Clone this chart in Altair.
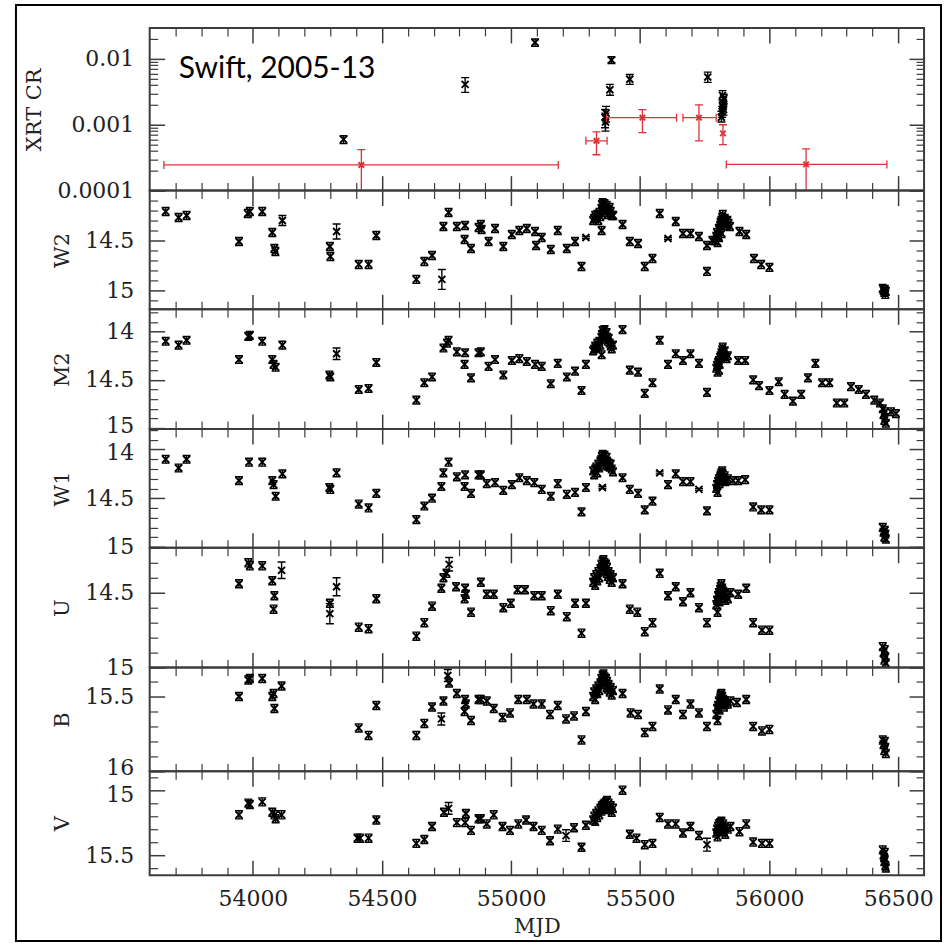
import altair as alt
import pandas as pd

# ------------------------------------------------------------------ data
X_DOMAIN = [53600, 56600]
X_MAJOR = [54000, 54500, 55000, 55500, 56000, 56500]
X_MINOR = [v for v in range(53700, 56600, 100) if v % 500 != 0]

NOTE_TEXT = "Swift, 2005-13"
NOTE_MJD = 53713
NOTE_CR = 0.0052

# XRT count rate, individual observations (black)
XRT_MJD = [54351, 54822, 55093, 55389, 55383, 55460, 55364, 55366, 55368, 55762,
           55815, 55818, 55820, 55822, 55824, 55819, 55821, 55823]
XRT_CR = [0.00060, 0.0041, 0.0177, 0.0096, 0.0034, 0.0049, 0.0013, 0.0011, 0.0015, 0.0053,
          0.0013, 0.0016, 0.0019, 0.0022, 0.0025, 0.0028, 0.0020, 0.0017]
XRT_LO = [0.00052, 0.0031, 0.0155, 0.0085, 0.0028, 0.0041, 0.0009, 0.0008, 0.0011, 0.0044,
          0.0011, 0.0013, 0.0016, 0.0018, 0.0021, 0.0024, 0.0017, 0.0014]
XRT_HI = [0.00068, 0.0052, 0.0200, 0.0108, 0.0041, 0.0058, 0.0017, 0.0015, 0.0019, 0.0063,
          0.0016, 0.0019, 0.0022, 0.0026, 0.0029, 0.0033, 0.0024, 0.0020]

# XRT count rate, stacked observations (red)
STK_MJD = [54420, 55331, 55509, 55728, 55821, 56143]
STK_CR = [0.000245, 0.00057, 0.00128, 0.00128, 0.00074, 0.00025]
STK_XLO = [53655, 55290, 55370, 55666, 55821, 55834]
STK_XHI = [55183, 55372, 55641, 55795, 55821, 56456]
STK_YLO = [0.00008, 0.00035, 0.00076, 0.00057, 0.00050, 0.00008]
STK_YHI = [0.00042, 0.00078, 0.0017, 0.0020, 0.0010, 0.00043]

XRT_DOMAIN = [0.0001, 0.0295]
XRT_LABELS = [0.0001, 0.001, 0.01]

# UVOT magnitudes: (MJD, mag[, error])
W2_OBS = [
    (53662, 14.21), (53712, 14.27), (53743, 14.25), (53946, 14.51), (53980, 14.23),
    (53988, 14.21), (54036, 14.21), (54075, 14.42), (54083, 14.58), (54087, 14.61),
    (54114, 14.30, 0.05), (54298, 14.56), (54300, 14.66), (54324, 14.41, 0.075),
    (54410, 14.74), (54448, 14.74), (54478, 14.45), (54633, 14.89), (54664, 14.71),
    (54694, 14.65), (54732, 14.89, 0.1), (54738, 14.36), (54758, 14.22), (54790, 14.36),
    (54822, 14.35), (54820, 14.49), (54845, 14.58), (54874, 14.37), (54883, 14.34),
    (54886, 14.39), (54913, 14.51), (54938, 14.38), (54970, 14.56), (55003, 14.44),
    (55032, 14.40), (55061, 14.38), (55093, 14.41), (55097, 14.55), (55119, 14.47),
    (55154, 14.59), (55181, 14.40), (55216, 14.58), (55248, 14.51), (55273, 14.76),
    (55290, 14.47, 0.01),
    (55318, 14.30), (55322, 14.28), (55326, 14.25), (55330, 14.27), (55334, 14.24),
    (55338, 14.30), (55342, 14.22), (55346, 14.26), (55350, 14.18), (55351, 14.40),
    (55352, 14.14), (55355, 14.12), (55358, 14.16), (55360, 14.20), (55362, 14.13),
    (55365, 14.18), (55368, 14.22), (55370, 14.15), (55372, 14.19), (55375, 14.24),
    (55378, 14.20), (55382, 14.17), (55386, 14.21), (55390, 14.25), (55396, 14.25),
    (55432, 14.34), (55460, 14.51), (55492, 14.53), (55518, 14.76), (55548, 14.68),
    (55576, 14.23), (55608, 14.48, 0.01), (55638, 14.31), (55666, 14.43), (55695, 14.43),
    (55728, 14.46), (55759, 14.55), (55759, 14.81),
    (55780, 14.50), (55790, 14.50), (55795, 14.46), (55798, 14.42), (55800, 14.52),
    (55802, 14.45), (55805, 14.38), (55806, 14.47), (55808, 14.40), (55810, 14.35),
    (55812, 14.32), (55815, 14.30), (55816, 14.43), (55818, 14.27), (55820, 14.24),
    (55822, 14.29), (55825, 14.33), (55828, 14.28), (55830, 14.31), (55835, 14.35),
    (55838, 14.30), (55842, 14.33), (55848, 14.36),
    (55885, 14.41), (55911, 14.44), (55941, 14.68), (55969, 14.74), (56001, 14.77),
    (56440, 14.98), (56443, 15.00), (56446, 15.02), (56448, 14.99), (56450, 15.04),
    (56452, 15.01),
]

M2_OBS = [
    (53662, 14.10), (53712, 14.14), (53743, 14.09), (53946, 14.29), (53982, 14.05),
    (53988, 14.04), (54036, 14.10), (54075, 14.29), (54080, 14.34), (54088, 14.37),
    (54114, 14.14), (54296, 14.45), (54300, 14.47), (54324, 14.23, 0.06), (54410, 14.60),
    (54448, 14.59), (54478, 14.32), (54633, 14.71), (54664, 14.53), (54694, 14.47),
    (54738, 14.17), (54752, 14.12), (54758, 14.09), (54790, 14.21), (54822, 14.22),
    (54820, 14.34), (54845, 14.48), (54874, 14.22), (54883, 14.21), (54913, 14.36),
    (54938, 14.29), (54970, 14.45), (55003, 14.30), (55032, 14.28), (55061, 14.31),
    (55093, 14.34), (55119, 14.36), (55154, 14.54), (55181, 14.33), (55216, 14.47),
    (55248, 14.41), (55273, 14.61), (55290, 14.34),
    (55318, 14.20), (55322, 14.18), (55326, 14.15), (55330, 14.17), (55334, 14.12),
    (55338, 14.16), (55342, 14.10), (55346, 14.14), (55350, 14.06), (55351, 14.24),
    (55352, 14.03), (55355, 13.99), (55358, 14.02), (55360, 14.05), (55362, 13.98),
    (55365, 14.04), (55368, 14.08), (55370, 14.01), (55372, 14.06), (55375, 14.10),
    (55378, 14.07), (55382, 14.12), (55386, 14.15), (55390, 14.18), (55395, 14.14),
    (55432, 13.98), (55460, 14.40), (55492, 14.42), (55518, 14.64), (55548, 14.53),
    (55576, 14.09), (55608, 14.34), (55638, 14.23), (55666, 14.30), (55695, 14.23),
    (55728, 14.33), (55759, 14.63),
    (55795, 14.38), (55798, 14.35), (55800, 14.42), (55802, 14.32), (55805, 14.30),
    (55806, 14.40), (55808, 14.34), (55810, 14.27), (55812, 14.25), (55815, 14.22),
    (55818, 14.19), (55820, 14.16), (55822, 14.21), (55825, 14.24), (55828, 14.20),
    (55830, 14.26), (55835, 14.28), (55840, 14.25),
    (55880, 14.30), (55907, 14.30), (55938, 14.50), (55961, 14.56), (56001, 14.61),
    (56037, 14.52), (56060, 14.65), (56092, 14.72), (56124, 14.65), (56150, 14.48),
    (56179, 14.33), (56205, 14.53), (56233, 14.53), (56262, 14.74), (56291, 14.74),
    (56317, 14.57), (56347, 14.60), (56375, 14.65), (56407, 14.71), (56429, 14.74),
    (56440, 14.80), (56443, 14.86), (56446, 14.92), (56448, 14.83), (56450, 14.89),
    (56452, 14.95), (56472, 14.83), (56491, 14.85),
]

W1_OBS = [
    (53662, 14.10), (53712, 14.19), (53743, 14.10), (53946, 14.32), (53985, 14.13),
    (54036, 14.13), (54075, 14.32), (54080, 14.36), (54088, 14.48), (54114, 14.25),
    (54296, 14.39), (54300, 14.41), (54324, 14.24), (54410, 14.56), (54448, 14.60),
    (54478, 14.45), (54633, 14.72), (54664, 14.58), (54694, 14.50), (54730, 14.38),
    (54738, 14.24), (54758, 14.13), (54790, 14.28), (54822, 14.26), (54820, 14.38),
    (54845, 14.45), (54874, 14.26), (54883, 14.26), (54906, 14.35), (54938, 14.34),
    (54970, 14.42), (55003, 14.36), (55032, 14.29), (55061, 14.32), (55090, 14.34),
    (55119, 14.41), (55154, 14.48), (55181, 14.35), (55216, 14.46), (55248, 14.44),
    (55273, 14.64), (55290, 14.39),
    (55318, 14.22), (55322, 14.26), (55326, 14.20), (55330, 14.18), (55334, 14.24),
    (55338, 14.15), (55342, 14.19), (55346, 14.12), (55350, 14.10), (55352, 14.07),
    (55355, 14.05), (55358, 14.09), (55360, 14.13), (55362, 14.06), (55365, 14.11),
    (55368, 14.16), (55370, 14.08), (55372, 14.12), (55375, 14.17), (55378, 14.14),
    (55382, 14.18), (55386, 14.15), (55390, 14.20), (55395, 14.23), (55354, 14.39, 0.01),
    (55432, 14.29), (55460, 14.41), (55492, 14.45), (55518, 14.62), (55548, 14.53),
    (55576, 14.24, 0.01), (55608, 14.36), (55638, 14.25), (55666, 14.33), (55695, 14.33),
    (55728, 14.41, 0.01), (55759, 14.63),
    (55795, 14.40), (55798, 14.36), (55800, 14.44), (55802, 14.33), (55805, 14.30),
    (55808, 14.35), (55810, 14.28), (55812, 14.26), (55815, 14.24), (55818, 14.22),
    (55820, 14.25), (55822, 14.29), (55825, 14.31), (55828, 14.27), (55830, 14.33),
    (55835, 14.32), (55840, 14.30),
    (55860, 14.32), (55880, 14.32), (55907, 14.31), (55938, 14.59), (55969, 14.62),
    (56001, 14.62),
    (56440, 14.80), (56443, 14.85), (56446, 14.90), (56448, 14.83), (56450, 14.87),
    (56452, 14.92),
]

U_OBS = [
    (53946, 14.44), (53982, 14.30), (53988, 14.32), (54036, 14.32), (54075, 14.42),
    (54083, 14.52), (54080, 14.61), (54111, 14.35, 0.055), (54298, 14.57),
    (54298, 14.64, 0.067), (54324, 14.46, 0.06), (54410, 14.73), (54448, 14.74),
    (54478, 14.54), (54633, 14.79), (54664, 14.70), (54694, 14.59), (54730, 14.47),
    (54738, 14.40), (54750, 14.37), (54760, 14.31, 0.045), (54787, 14.46), (54822, 14.47),
    (54825, 14.51), (54820, 14.54), (54845, 14.63), (54883, 14.43), (54906, 14.51),
    (54933, 14.51), (54970, 14.60), (54999, 14.57), (55025, 14.48), (55054, 14.48),
    (55090, 14.52), (55119, 14.52), (55154, 14.62), (55181, 14.51), (55216, 14.66),
    (55248, 14.57), (55273, 14.77), (55290, 14.57),
    (55318, 14.43), (55322, 14.40), (55326, 14.45), (55330, 14.38), (55334, 14.42),
    (55338, 14.36), (55342, 14.40), (55346, 14.34), (55350, 14.31), (55352, 14.33),
    (55355, 14.29), (55358, 14.28), (55360, 14.32), (55362, 14.30), (55365, 14.35),
    (55368, 14.31), (55370, 14.37), (55372, 14.33), (55375, 14.39), (55378, 14.36),
    (55382, 14.41), (55386, 14.38), (55390, 14.43), (55395, 14.40),
    (55432, 14.44), (55460, 14.61), (55489, 14.63), (55518, 14.76), (55548, 14.70),
    (55576, 14.37), (55608, 14.52), (55638, 14.46), (55666, 14.56), (55695, 14.50),
    (55728, 14.60), (55759, 14.70),
    (55795, 14.58), (55798, 14.55), (55800, 14.63), (55802, 14.52), (55805, 14.50),
    (55808, 14.56), (55810, 14.48), (55812, 14.46), (55815, 14.44), (55818, 14.47),
    (55820, 14.51), (55822, 14.49), (55825, 14.53), (55828, 14.50), (55830, 14.55),
    (55835, 14.52), (55840, 14.54), (55850, 14.50),
    (55880, 14.51), (55911, 14.47), (55938, 14.70), (55972, 14.75), (56001, 14.75),
    (56440, 14.86), (56443, 14.90), (56446, 14.95), (56448, 14.88), (56450, 14.93),
    (56452, 14.97),
]

B_OBS = [
    (53946, 15.50), (53982, 15.39), (53988, 15.38), (54036, 15.38), (54075, 15.50),
    (54080, 15.48), (54111, 15.43), (54083, 15.58), (54410, 15.71), (54448, 15.76),
    (54478, 15.56), (54633, 15.76), (54664, 15.68), (54694, 15.57), (54730, 15.65, 0.04),
    (54738, 15.53), (54755, 15.36, 0.04), (54760, 15.41), (54790, 15.48), (54822, 15.52),
    (54825, 15.55), (54820, 15.60), (54845, 15.66), (54874, 15.52), (54883, 15.52),
    (54906, 15.53), (54933, 15.58), (54967, 15.64), (54996, 15.61), (55028, 15.52),
    (55061, 15.52), (55087, 15.55), (55119, 15.55), (55151, 15.62), (55181, 15.56),
    (55213, 15.65), (55244, 15.63), (55273, 15.79), (55290, 15.60),
    (55318, 15.50), (55322, 15.47), (55326, 15.52), (55330, 15.45), (55334, 15.48),
    (55338, 15.43), (55342, 15.46), (55346, 15.41), (55350, 15.38), (55352, 15.40),
    (55355, 15.36), (55358, 15.35), (55360, 15.39), (55362, 15.37), (55365, 15.42),
    (55368, 15.38), (55370, 15.44), (55372, 15.40), (55375, 15.45), (55378, 15.42),
    (55382, 15.47), (55386, 15.44), (55390, 15.49), (55395, 15.46),
    (55432, 15.48), (55463, 15.61), (55492, 15.62), (55518, 15.74), (55548, 15.70),
    (55576, 15.45), (55608, 15.59), (55638, 15.52), (55666, 15.62), (55695, 15.55),
    (55728, 15.61), (55759, 15.70),
    (55795, 15.62), (55798, 15.58), (55800, 15.66), (55802, 15.56), (55805, 15.53),
    (55808, 15.59), (55810, 15.51), (55812, 15.49), (55815, 15.48), (55818, 15.50),
    (55820, 15.54), (55822, 15.52), (55825, 15.57), (55828, 15.53), (55830, 15.55),
    (55840, 15.55), (55850, 15.53),
    (55875, 15.54), (55911, 15.52), (55938, 15.70), (55972, 15.73), (56001, 15.72),
    (56440, 15.79), (56443, 15.82), (56446, 15.86), (56448, 15.80), (56450, 15.84),
    (56452, 15.88),
]

V_OBS = [
    (53946, 15.19), (53982, 15.10), (53988, 15.11), (54036, 15.09), (54075, 15.17),
    (54083, 15.19), (54088, 15.22), (54111, 15.19), (54405, 15.37), (54415, 15.37),
    (54448, 15.37), (54478, 15.23), (54633, 15.41), (54664, 15.38), (54694, 15.28),
    (54740, 15.17), (54758, 15.14, 0.045), (54790, 15.25), (54822, 15.25), (54825, 15.18),
    (54845, 15.31), (54874, 15.22), (54883, 15.22), (54906, 15.26), (54933, 15.19),
    (54967, 15.28), (54996, 15.31), (55028, 15.26), (55058, 15.23), (55087, 15.28),
    (55119, 15.31), (55151, 15.39), (55181, 15.30), (55213, 15.35, 0.045), (55244, 15.29),
    (55273, 15.44), (55290, 15.27),
    (55318, 15.23), (55322, 15.20), (55326, 15.24), (55330, 15.18), (55334, 15.21),
    (55338, 15.16), (55342, 15.19), (55346, 15.14), (55350, 15.16), (55352, 15.12),
    (55355, 15.15), (55358, 15.11), (55360, 15.13), (55362, 15.10), (55365, 15.14),
    (55368, 15.09), (55370, 15.12), (55372, 15.08), (55375, 15.13), (55378, 15.10),
    (55382, 15.15), (55386, 15.12), (55390, 15.17), (55395, 15.14),
    (55432, 15.00), (55460, 15.34), (55486, 15.37), (55518, 15.42), (55548, 15.41),
    (55576, 15.21), (55608, 15.26), (55638, 15.26), (55666, 15.33), (55695, 15.28),
    (55728, 15.35), (55759, 15.42, 0.05),
    (55795, 15.33), (55798, 15.30), (55800, 15.36), (55802, 15.28), (55805, 15.26),
    (55808, 15.31), (55810, 15.25), (55812, 15.27), (55815, 15.24), (55818, 15.28),
    (55820, 15.30), (55822, 15.26), (55825, 15.32), (55828, 15.29), (55830, 15.34),
    (55840, 15.30), (55850, 15.28),
    (55885, 15.32), (55911, 15.26), (55938, 15.40), (55972, 15.41), (56001, 15.41),
    (56440, 15.46), (56443, 15.50), (56446, 15.55), (56448, 15.48), (56450, 15.58),
    (56452, 15.60), (56445, 15.52),
]

# band name, observations, default error, y-domain,
# labelled ticks as groups of (values, vertical nudge in px)
BANDS = [
    ("W2", W2_OBS, 0.04, [14.0, 15.19], [([14.5, 15], 0)]),
    ("M2", M2_OBS, 0.04, [13.77, 15.01], [([14, 14.5], 0), ([15], -3)]),
    ("W1", W1_OBS, 0.04, [13.79, 15.01], [([14.5, 15], 0), ([14], 3)]),
    ("U", U_OBS, 0.027, [14.2, 15.0], [([14.5, 15], 0)]),
    ("B", B_OBS, 0.027, [15.307, 16.0], [([15.5], 0), ([16], -4)]),
    ("V", V_OBS, 0.031, [14.855, 15.655], [([15.5], 0), ([15], 4)]),
]

# ------------------------------------------------------------------ style
PANEL_W = 776
XRT_H = 163
BAND_H = [119, 120, 119, 120, 104, 104]
MAJ, MIN = 15, 8
SERIF = "DejaVu Serif"
LABEL_SIZE = 22
AXC = "#3c3c3c"
TXT = "#222222"
INK = "black"
RED = "#e0303a"
XSHAPE = "M-1,-1L1,1M-1,1L1,-1"

xs = alt.Scale(domain=X_DOMAIN, nice=False, zero=False)


def x_ticks(values, size, edge, h):
    """inward ticks along the upper ('top') or lower ('bottom') edge of a panel"""
    return alt.Axis(orient="bottom" if edge == "top" else "top", offset=-h, values=values,
                    tickSize=size, tickWidth=1.5 if size == MAJ else 1.2, tickColor=AXC,
                    labels=False, domain=False, grid=False, title=None)


def y_ticks(values, size, edge):
    """inward ticks along the left or right edge of a panel"""
    return alt.Axis(orient="right" if edge == "left" else "left", offset=-PANEL_W, values=values,
                    tickSize=size, tickWidth=1.5 if size == MAJ else 1.2, tickColor=AXC,
                    labels=False, domain=False, grid=False, title=None)


def y_labels(values, title, nudge=0):
    return alt.Axis(orient="left", values=values, ticks=False, tickSize=0, domain=False,
                    grid=False, labelPadding=16, labelExpr="'' + datum.value",
                    labelFont=SERIF, labelFontSize=LABEL_SIZE, labelColor=TXT,
                    labelOverlap=False, labelFlush=False, labelOffset=nudge,
                    title=title, titleFont=SERIF, titleFontSize=21,
                    titleFontWeight="normal", titleColor=TXT, titlePadding=12)


def x_labels():
    return alt.Axis(orient="bottom", values=X_MAJOR, format="d", ticks=False, tickSize=0,
                    domain=False, grid=False, labelPadding=13, labelFont=SERIF,
                    labelFontSize=LABEL_SIZE, labelColor=TXT, labelOverlap=False,
                    labelFlush=False, title="MJD", titleFont=SERIF, titleFontSize=21,
                    titleFontWeight="normal", titleColor=TXT, titlePadding=6)


def mag_ticks(lo, hi):
    vals = [round(v / 10, 1) for v in range(int(round(lo * 10)) - 1, int(round(hi * 10)) + 2)]
    vals = [v for v in vals if lo - 1e-9 <= v <= hi + 1e-9]
    major = [v for v in vals if abs(v * 2 - round(v * 2)) < 1e-9]
    minor = [v for v in vals if v not in major]
    return major, minor


def panel(df, ysc, ymaj, ymin, label_groups, title, h, bottom=False, extra=()):
    base = alt.Chart(df)
    first_vals, first_nudge = label_groups[0]
    err = base.mark_rule(color=INK, strokeWidth=1.4, clip=True).encode(
        x=alt.X("mjd:Q", scale=xs, axis=x_ticks(X_MAJOR, MAJ, "top", h)),
        y=alt.Y("lo:Q", scale=ysc, axis=y_labels(first_vals, title, first_nudge)),
        y2="hi:Q",
    )
    cap_lo = base.mark_tick(color=INK, orient="horizontal", size=8, thickness=1.4,
                            opacity=1, clip=True).encode(
        x=alt.X("mjd:Q", scale=xs, axis=x_ticks(X_MINOR, MIN, "top", h)),
        y=alt.Y("lo:Q", scale=ysc, axis=y_ticks(ymaj, MAJ, "left")),
    )
    cap_hi = base.mark_tick(color=INK, orient="horizontal", size=8, thickness=1.4,
                            opacity=1, clip=True).encode(
        x=alt.X("mjd:Q", scale=xs, axis=x_ticks(X_MAJOR, MAJ, "bottom", h)),
        y=alt.Y("hi:Q", scale=ysc, axis=y_ticks(ymin, MIN, "left")),
    )
    pts = base.mark_point(shape=XSHAPE, size=49, strokeWidth=1.9, color=INK, filled=False,
                          opacity=1, clip=True).encode(
        x=alt.X("mjd:Q", scale=xs, axis=x_ticks(X_MINOR, MIN, "bottom", h)),
        y=alt.Y("mag:Q", scale=ysc, axis=y_ticks(ymaj, MAJ, "right")),
    )
    ghost = base.mark_point(opacity=0).encode(
        x=alt.X("mjd:Q", scale=xs, axis=x_labels() if bottom else None),
        y=alt.Y("mag:Q", scale=ysc, axis=y_ticks(ymin, MIN, "right")),
    )
    more = [base.mark_point(opacity=0).encode(
        x=alt.X("mjd:Q", scale=xs, axis=None),
        y=alt.Y("mag:Q", scale=ysc, axis=y_labels(vals, None, nudge)))
        for vals, nudge in label_groups[1:]]
    return (alt.layer(err, cap_lo, cap_hi, pts, ghost, *more, *extra)
            .properties(width=PANEL_W, height=h)
            .resolve_axis(x="independent", y="independent"))


# ------------------------------------------------------------------ XRT panel
xrt_df = pd.DataFrame({"mjd": XRT_MJD, "mag": XRT_CR, "lo": XRT_LO, "hi": XRT_HI})
xrt_sc = alt.Scale(type="log", domain=XRT_DOMAIN, nice=False)
xrt_major = XRT_LABELS
xrt_minor = [k * m for m in (0.0001, 0.001, 0.01) for k in range(2, 10)
             if k * m <= XRT_DOMAIN[1]]

stk = pd.DataFrame({"mjd": STK_MJD, "cr": STK_CR, "xlo": STK_XLO, "xhi": STK_XHI,
                    "ylo": STK_YLO, "yhi": STK_YHI})
stk_wide = stk[stk.xhi - stk.xlo > 20]
stk_xcap = stk_wide.melt(id_vars=["cr"], value_vars=["xlo", "xhi"], value_name="xc")
stk_ycap = stk.melt(id_vars=["mjd"], value_vars=["ylo", "yhi"], value_name="yc")

red_xbar = alt.Chart(stk_wide).mark_rule(color=RED, strokeWidth=1.3, clip=True).encode(
    x=alt.X("xlo:Q", scale=xs, axis=None), x2="xhi:Q",
    y=alt.Y("cr:Q", scale=xrt_sc, axis=None))
red_ybar = alt.Chart(stk).mark_rule(color=RED, strokeWidth=1.3, clip=True).encode(
    x=alt.X("mjd:Q", scale=xs, axis=None),
    y=alt.Y("ylo:Q", scale=xrt_sc, axis=None), y2="yhi:Q")
red_xcaps = alt.Chart(stk_xcap).mark_tick(color=RED, orient="vertical", size=8,
                                          thickness=1.3, opacity=1, clip=True).encode(
    x=alt.X("xc:Q", scale=xs, axis=None),
    y=alt.Y("cr:Q", scale=xrt_sc, axis=None))
red_ycaps = alt.Chart(stk_ycap).mark_tick(color=RED, orient="horizontal", size=8,
                                          thickness=1.3, opacity=1, clip=True).encode(
    x=alt.X("mjd:Q", scale=xs, axis=None),
    y=alt.Y("yc:Q", scale=xrt_sc, axis=None))
red_pts = alt.Chart(stk).mark_point(shape=XSHAPE, size=30, strokeWidth=2, color=RED,
                                    filled=False, opacity=1, clip=True).encode(
    x=alt.X("mjd:Q", scale=xs, axis=None),
    y=alt.Y("cr:Q", scale=xrt_sc, axis=None))

note = alt.Chart(pd.DataFrame({"mjd": [NOTE_MJD], "cr": [NOTE_CR], "t": [NOTE_TEXT]})).mark_text(
    align="left", baseline="alphabetic", font="Lato", fontSize=30, color=INK).encode(
    x=alt.X("mjd:Q", scale=xs, axis=None),
    y=alt.Y("cr:Q", scale=xrt_sc, axis=None),
    text="t:N")

frame = alt.Chart(pd.DataFrame({"k": [0]})).mark_rect(
    fillOpacity=0, stroke="black", strokeWidth=2).encode(
    x=alt.value(-134), x2=alt.value(793), y=alt.value(-23), y2=alt.value(915))

panels = [panel(xrt_df, xrt_sc, xrt_major, xrt_minor, [(XRT_LABELS, 0)], "XRT CR", XRT_H,
                extra=(red_xbar, red_ybar, red_xcaps, red_ycaps, red_pts, note, frame))]

# ------------------------------------------------------------------ UVOT panels
for i, (name, obs, derr, ydom, groups) in enumerate(BANDS):
    df = pd.DataFrame([(o[0], o[1], o[2] if len(o) > 2 else derr) for o in obs],
                      columns=["mjd", "mag", "err"])
    df["lo"] = df["mag"] - df["err"]
    df["hi"] = df["mag"] + df["err"]
    ysc = alt.Scale(domain=ydom, reverse=True, nice=False, zero=False)
    ymaj, ymin = mag_ticks(*ydom)
    panels.append(panel(df, ysc, ymaj, ymin, groups, name, BAND_H[i],
                        bottom=(i == len(BANDS) - 1)))

chart = (alt.vconcat(*panels, spacing=0, bounds="flush")
         .resolve_scale(x="independent", y="independent")
         .configure_view(stroke=AXC, strokeWidth=2)
         .configure_axis(grid=False, domain=False)
         .properties(padding={"left": 14, "top": 2, "right": 4, "bottom": 1},
                     background="white"))

chart.save("out.html", embed_options={"renderer": "svg", "actions": False})
